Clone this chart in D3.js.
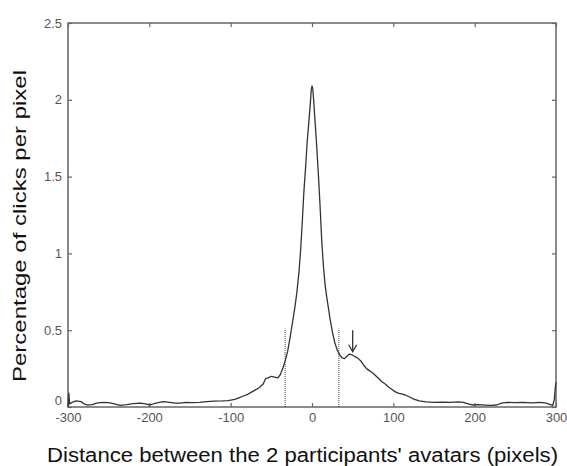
<!DOCTYPE html>
<html>
<head>
<meta charset="utf-8">
<script src="https://cdn.jsdelivr.net/npm/d3@7"></script>
<style>
  body { margin: 0; background: #fff; }
  .axis text { font-family: "Liberation Sans", Arial, sans-serif; font-size: 13px; fill: #555; }
  .axis line { stroke: #666; stroke-width: 1.2; }
  .axis path { stroke: none; }
</style>
</head>
<body>
<div id="chart"></div>
<script>
// distance between avatars (pixels) and percentage of clicks per pixel
var distX = [-300, -299, -298, -295, -290, -284, -280, -276, -270, -265, -257, -250, -243, -236, -228,
  -220, -211, -205, -199, -192, -183, -175, -168, -162, -155, -148, -138, -130, -120, -110, -104,
  -100, -95, -90, -85, -80, -75, -70, -65, -60, -57, -54, -50, -46, -42, -39, -36, -33, -30, -27,
  -24, -21, -18.5, -16, -14, -12, -10, -8, -6, -4, -2, -1, 0, 1, 2, 4, 6, 8, 10, 12, 14, 16, 18,
  20, 22, 25, 28, 31, 34, 37, 40, 43, 46, 49, 52, 56, 60, 64, 67, 71, 75, 78, 81, 86, 90, 94, 98,
  102, 106, 110, 116, 120, 126, 132, 140, 150, 160, 170, 180, 186, 192, 198, 205, 213, 220, 227,
  233, 240, 250, 260, 270, 280, 288, 293, 296, 298, 299, 300];
var clickPct = [0.0, 0.09, 0.02, 0.03, 0.04, 0.035, 0.02, 0.012, 0.015, 0.025, 0.03, 0.028, 0.02, 0.01, 0.015,
  0.022, 0.025, 0.02, 0.013, 0.025, 0.035, 0.03, 0.025, 0.025, 0.03, 0.028, 0.03, 0.035, 0.038, 0.04, 0.042,
  0.045, 0.05, 0.06, 0.07, 0.08, 0.095, 0.11, 0.125, 0.15, 0.185, 0.19, 0.2, 0.195, 0.19, 0.21, 0.25, 0.3, 0.36, 0.45,
  0.55, 0.65, 0.75, 0.88, 1.02, 1.2, 1.4, 1.55, 1.72, 1.85, 1.98, 2.06, 2.09, 2.07, 2.0, 1.84, 1.68, 1.5, 1.3, 1.08, 0.92, 0.8, 0.72,
  0.65, 0.58, 0.49, 0.42, 0.37, 0.34, 0.32, 0.315, 0.33, 0.345, 0.34, 0.33, 0.32, 0.3, 0.27, 0.25, 0.235, 0.22, 0.205, 0.19, 0.165, 0.15, 0.13, 0.115,
  0.1, 0.09, 0.085, 0.075, 0.065, 0.05, 0.04, 0.033, 0.03, 0.032, 0.03, 0.033, 0.03, 0.02, 0.013, 0.015, 0.012, 0.01, 0.013,
  0.025, 0.03, 0.028, 0.03, 0.027, 0.03, 0.025, 0.015, 0.01, 0.05, 0.12, 0.16];

var xTicks = [-300, -200, -100, 0, 100, 200, 300];
var yTicks = [0, 0.5, 1, 1.5, 2, 2.5];

// dotted markers and the arrow
var markerX = [-33, 33];
var markerTop = 0.51;
var arrowX = 50;
var arrowFrom = 0.5;
var arrowTo = 0.36;

var svgWidth = 567, svgHeight = 466;
var margin = { top: 23, right: 11, bottom: 59, left: 68 };
var width = svgWidth - margin.left - margin.right;
var height = svgHeight - margin.top - margin.bottom;

var svg = d3.select("#chart").append("svg")
  .attr("width", svgWidth)
  .attr("height", svgHeight);

var g = svg.append("g")
  .attr("transform", `translate(${margin.left}, ${margin.top})`);

var xScale = d3.scaleLinear().domain([-300, 300]).range([0, width]);
var yScale = d3.scaleLinear().domain([0, 2.5]).range([height, 0]);

var fmtX = d => d < 0 ? "-" + Math.abs(d) : String(d);

// axes, ticks pointing inward on all four sides
g.append("g").attr("class", "axis")
  .attr("transform", `translate(0, ${height})`)
  .call(d3.axisBottom(xScale).tickValues(xTicks).tickFormat(fmtX).tickSizeInner(-4).tickSizeOuter(0).tickPadding(6));
g.append("g").attr("class", "axis")
  .call(d3.axisTop(xScale).tickValues(xTicks).tickFormat("").tickSizeInner(-4).tickSizeOuter(0));
var yAxisG = g.append("g").attr("class", "axis")
  .call(d3.axisLeft(yScale).tickValues(yTicks).tickFormat(d3.format("")).tickSizeInner(-4).tickSizeOuter(0).tickPadding(6));
// lift the "0" label a little so it clears the -300 label below it
yAxisG.selectAll(".tick text").filter(d => d === 0).attr("dy", "-0.2em");
g.append("g").attr("class", "axis")
  .attr("transform", `translate(${width}, 0)`)
  .call(d3.axisRight(yScale).tickValues(yTicks).tickFormat("").tickSizeInner(-4).tickSizeOuter(0));

// frame
g.append("rect")
  .attr("width", width)
  .attr("height", height)
  .attr("fill", "none")
  .attr("stroke", "#666")
  .attr("stroke-width", 1.5);

// dotted verticals
g.selectAll(".marker")
  .data(markerX)
  .enter()
  .append("line")
  .attr("class", "marker")
  .attr("x1", d => xScale(d))
  .attr("x2", d => xScale(d))
  .attr("y1", yScale(0))
  .attr("y2", yScale(markerTop))
  .attr("stroke", "#444")
  .attr("stroke-width", 1)
  .attr("stroke-dasharray", "1,1");

// the curve
var pts = distX.map((x, i) => [x, clickPct[i]]);
var line = d3.line()
  .x(d => xScale(d[0]))
  .y(d => yScale(d[1]));

g.append("path")
  .datum(pts)
  .attr("d", line)
  .attr("fill", "none")
  .attr("stroke", "#333")
  .attr("stroke-width", 1.3)
  .attr("stroke-linejoin", "round");

// arrow pointing at the side bump
var ax = xScale(arrowX), ay1 = yScale(arrowFrom), ay2 = yScale(arrowTo);
g.append("line")
  .attr("x1", ax).attr("x2", ax)
  .attr("y1", ay1).attr("y2", ay2)
  .attr("stroke", "#333").attr("stroke-width", 1.3);
g.append("path")
  .attr("d", `M${ax - 4},${ay2 - 7}L${ax},${ay2}L${ax + 4},${ay2 - 7}`)
  .attr("fill", "none")
  .attr("stroke", "#333")
  .attr("stroke-width", 1.3);

// axis titles
svg.append("text")
  .attr("x", 47)
  .attr("y", 462)
  .attr("textLength", 511)
  .attr("lengthAdjust", "spacingAndGlyphs")
  .style("font-family", "Liberation Sans, Arial, sans-serif")
  .style("font-size", "20px")
  .style("fill", "#111")
  .text("Distance between the 2 participants' avatars (pixels)");

svg.append("text")
  .attr("transform", "translate(26, 382) rotate(-90)")
  .attr("x", 0)
  .attr("y", 0)
  .attr("textLength", 312)
  .attr("lengthAdjust", "spacingAndGlyphs")
  .style("font-family", "Liberation Sans, Arial, sans-serif")
  .style("font-size", "18px")
  .style("fill", "#111")
  .text("Percentage of clicks per pixel");
</script>
</body>
</html>
